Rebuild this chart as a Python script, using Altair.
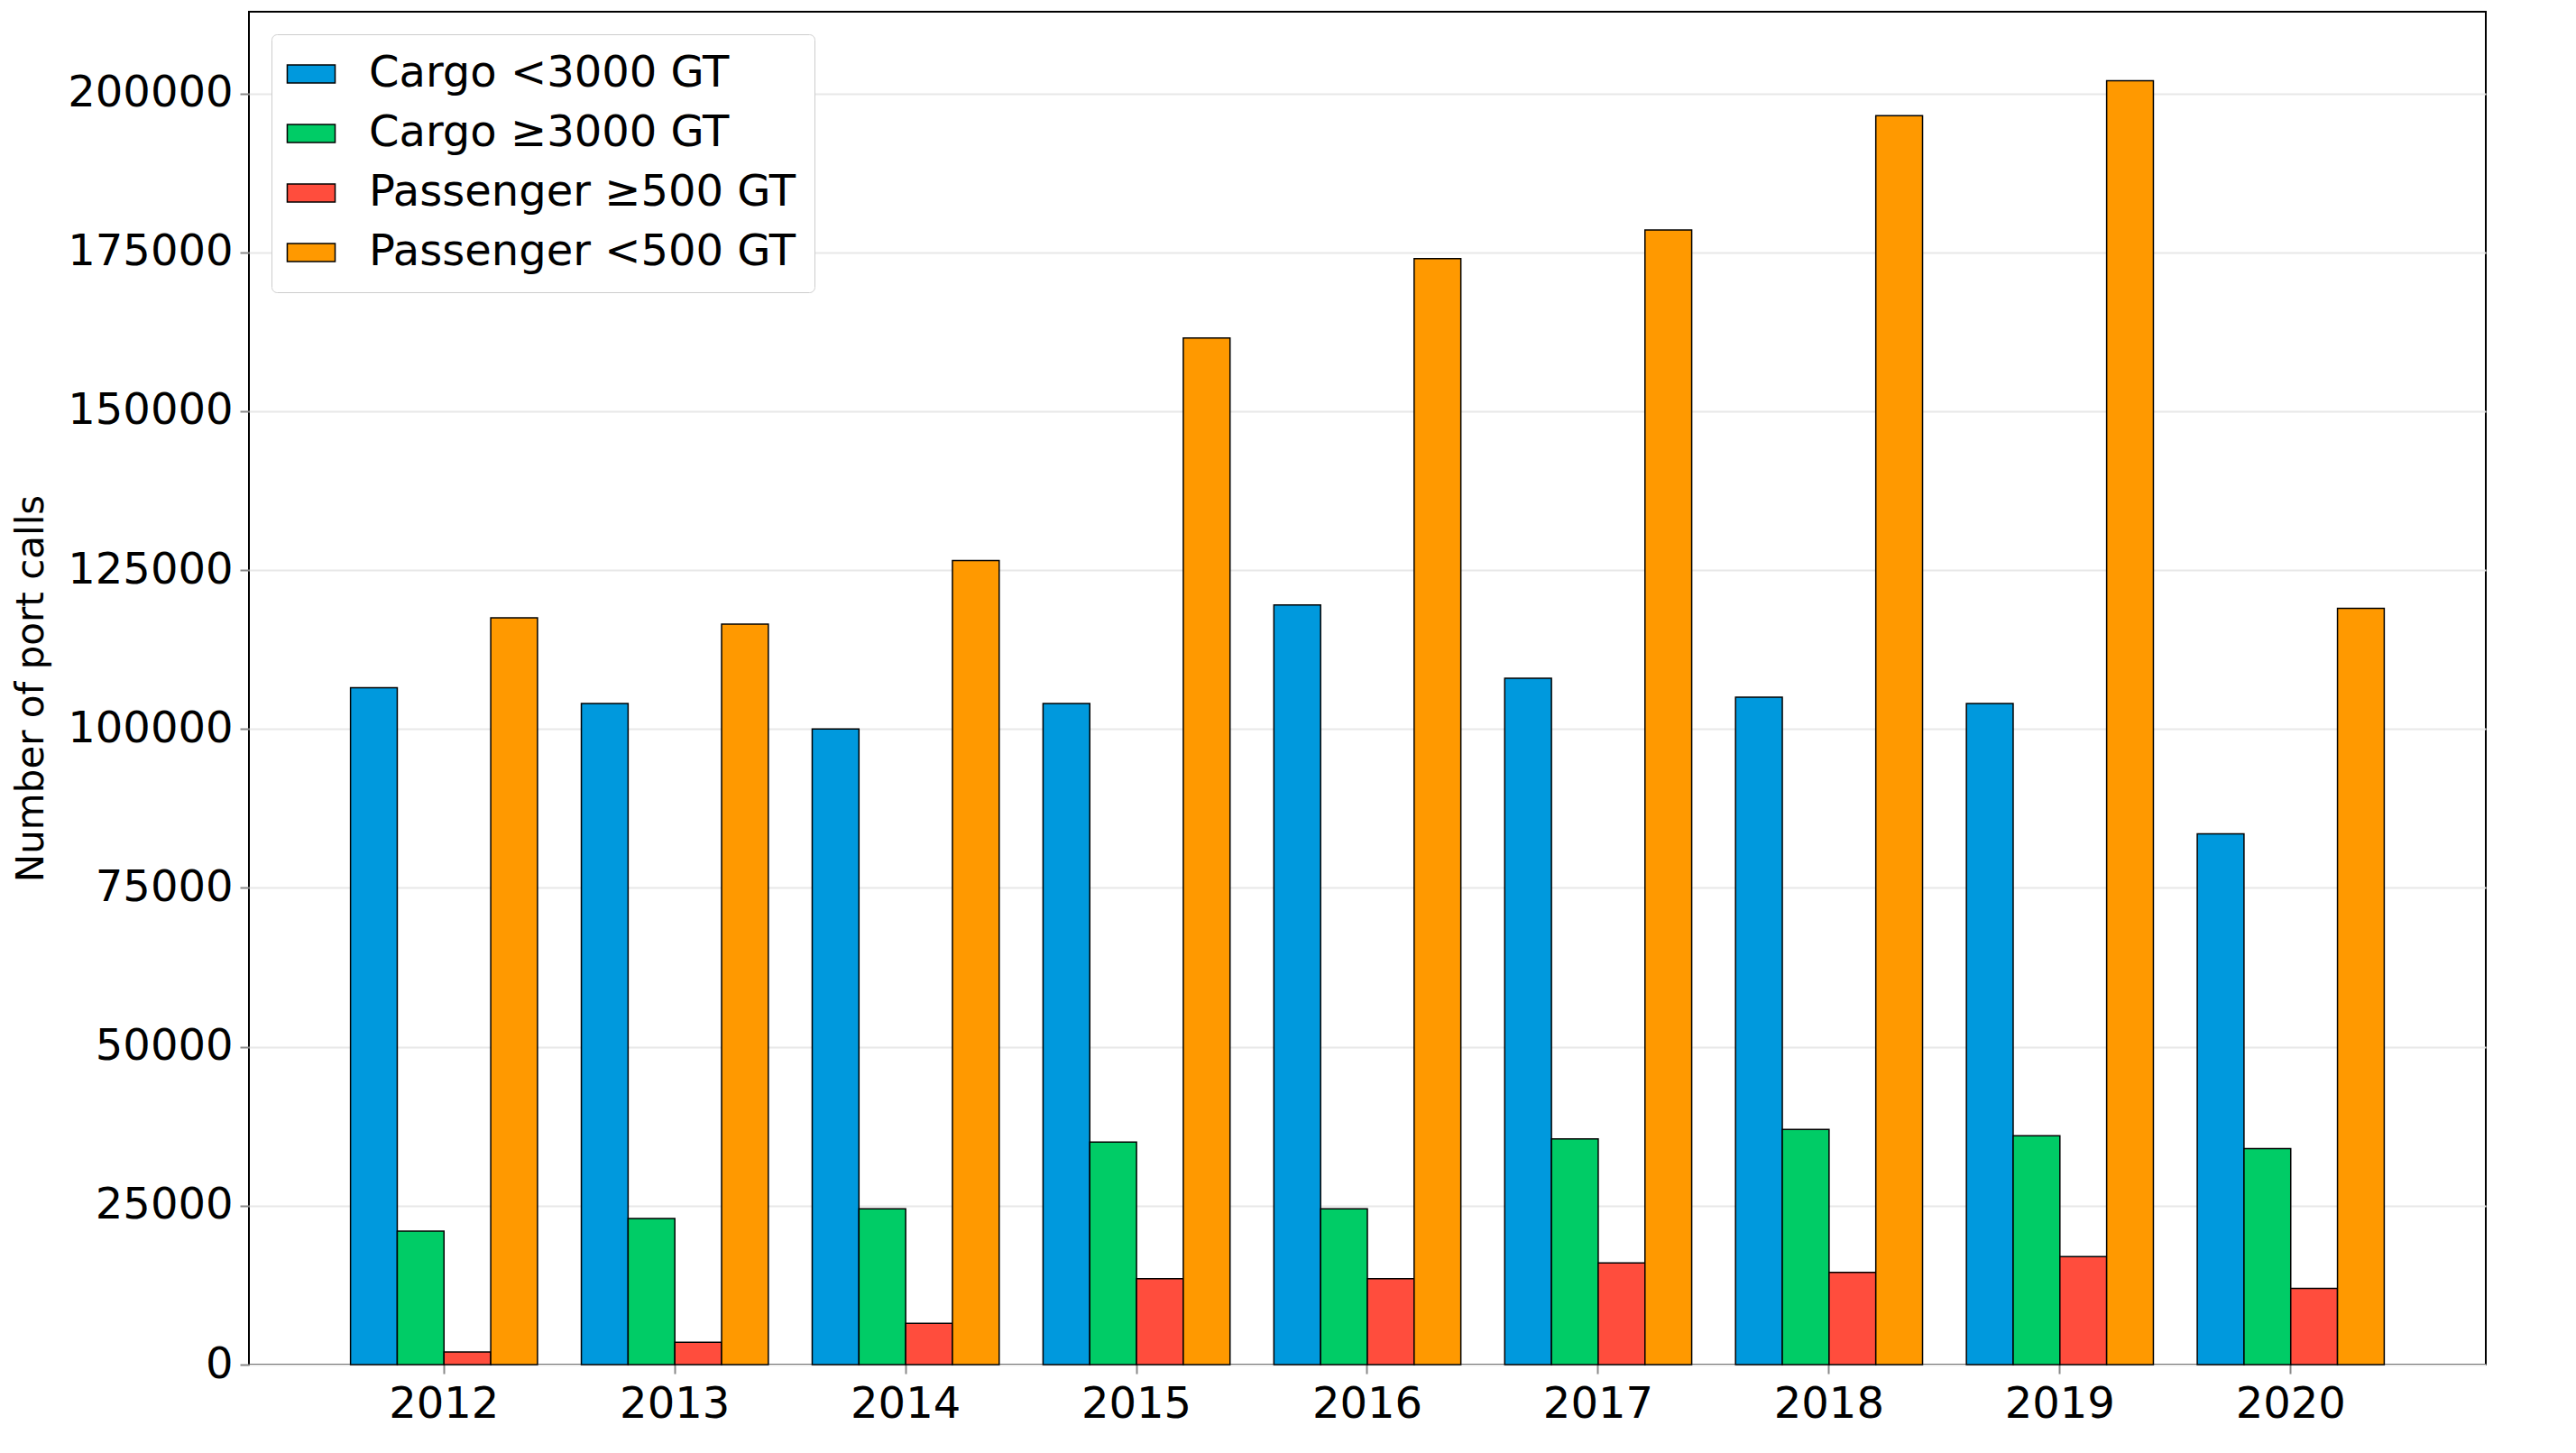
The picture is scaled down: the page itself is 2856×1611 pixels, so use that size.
import pandas as pd
import altair as alt

years = ["2012", "2013", "2014", "2015", "2016", "2017", "2018", "2019", "2020"]
categories = ["Cargo <3000 GT", "Cargo ≥3000 GT", "Passenger ≥500 GT", "Passenger <500 GT"]
cargo_small = [106500, 104000, 100000, 104000, 119500, 108000, 105000, 104000, 83500]
cargo_large = [21000, 23000, 24500, 35000, 24500, 35500, 37000, 36000, 34000]
pass_large = [2000, 3500, 6500, 13500, 13500, 16000, 14500, 17000, 12000]
pass_small = [117500, 116500, 126500, 161500, 174000, 178500, 196500, 202000, 119000]
colors = ["#0099dd", "#00cc66", "#ff4d3d", "#ff9900"]

rows = []
for series, vals in zip(categories, [cargo_small, cargo_large, pass_large, pass_small]):
    for y, v in zip(years, vals):
        rows.append({"year": y, "category": series, "value": v})
df = pd.DataFrame(rows)

chart = alt.Chart(df).mark_bar(stroke="black", strokeWidth=1.5).encode(
    x=alt.X("year:N", title=None,
            scale=alt.Scale(paddingInner=0.19, paddingOuter=0.44),
            axis=alt.Axis(labelAngle=0, labelFontSize=48, labelPadding=10,
                          tickSize=10, tickWidth=2, grid=False, domain=False)),
    xOffset=alt.XOffset("category:N", sort=categories, scale=alt.Scale(paddingInner=0)),
    y=alt.Y("value:Q", title="Number of port calls",
            scale=alt.Scale(domain=[0, 212850], nice=False),
            axis=alt.Axis(values=list(range(0, 200001, 25000)), format="d",
                          labelFontSize=48, labelLimit=400,
                          titleFontSize=42, titleFontWeight="normal", titlePadding=20,
                          tickSize=10, tickWidth=2, labelPadding=8,
                          gridColor="#e8e8e8", gridWidth=2, domain=False)),
    color=alt.Color("category:N", sort=categories,
                    scale=alt.Scale(domain=categories, range=colors),
                    legend=alt.Legend(title=None, orient="top-left", offset=25,
                                      labelFontSize=48, labelLimit=800,
                                      symbolType="M-1.6,-0.6H1.6V0.6H-1.6Z",
                                      symbolSize=1100, symbolStrokeColor="black",
                                      symbolStrokeWidth=1.5, rowPadding=18, labelOffset=40,
                                      padding=20, fillColor="white", strokeColor="#cccccc",
                                      cornerRadius=6)),
).properties(
    width=2480, height=1500
).configure(
    font="DejaVu Sans"
).configure_view(
    stroke="black", strokeWidth=2
)

chart.save("out.html", embed_options={"renderer": "svg", "actions": False})
